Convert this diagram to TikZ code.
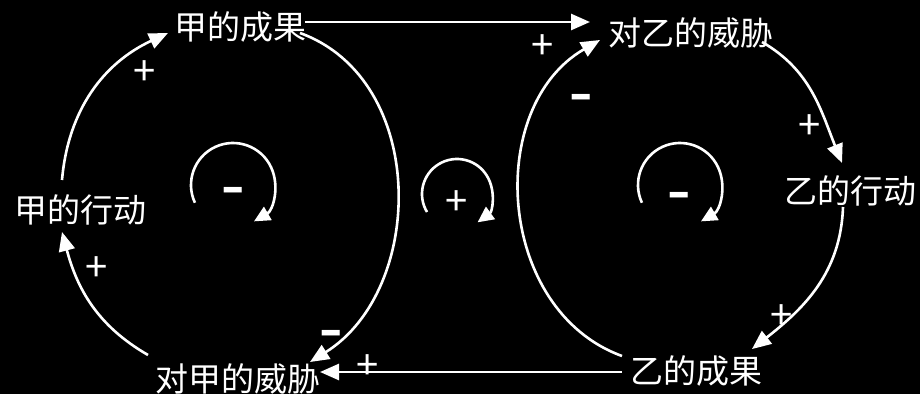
\documentclass[tikz,border=0pt]{standalone}
\usepackage{fontspec}
\newfontfamily\cjk{Noto Sans CJK SC}
\usetikzlibrary{arrows.meta}

\begin{document}
\begin{tikzpicture}[x=1pt, y=1pt,
    var/.style={inner sep=0pt, text=white, font=\cjk\fontsize{33}{33}\selectfont},
    plussign/.style={inner sep=0pt, text=white, font=\cjk\fontsize{40}{40}\selectfont},
    minussign/.style={inner sep=0pt, text=white, font=\rmfamily\bfseries\fontsize{60}{60}\selectfont},
    link/.style={draw=white, line width=2.6pt, -{Triangle[length=19pt, width=16pt]}},
    turn/.style={draw=white, line width=2.6pt, -{Triangle[length=16pt, width=15pt]}}]
    \fill[black] (0,0) rectangle (920,394);
    \useasboundingbox (0,0) rectangle (920,394);

    % variables
    \node[var] (jiaRes) at (240,367) {甲的成果};
    \node[var] (yiThreat) at (691,361) {对乙的威胁};
    \node[var] (yiAct) at (850,203) {乙的行动};
    \node[var] (yiRes) at (696,23) {乙的成果};
    \node[var] (jiaThreat) at (238,15) {对甲的威胁};
    \node[var] (jiaAct) at (80,184) {甲的行动};

    % left loop
    \draw[link] ([shift={(-18,30)}]jiaAct.center) to[out=85, in=205] ([shift={(-72,-6)}]jiaRes.center);
    \draw[link] ([shift={(60,-6)}]jiaRes.center) to[out=-20, in=32, looseness=1.06] ([shift={(72,17)}]jiaThreat.center);
    \draw[link] ([shift={(-90,24)}]jiaThreat.center) to[out=150, in=-75] ([shift={(-18,-22)}]jiaAct.center);

    % right loop
    \draw[link] ([shift={(-74,15)}]yiRes.center) to[out=160, in=210, looseness=1.08] ([shift={(-91,-7)}]yiThreat.center);
    \draw[link] ([shift={(71,-9)}]yiThreat.center) to[out=-30, in=112] ([shift={(-8,28)}]yiAct.center);
    \draw[link] ([shift={(-7,-16)}]yiAct.center) to[out=-92, in=38] ([shift={(56,22)}]yiRes.center);

    % cross links
    \draw[link] ([shift={(65,5)}]jiaRes.center) -- ([shift={(-101,11)}]yiThreat.center);
    \draw[link] ([shift={(-74,-1)}]yiRes.center) -- ([shift={(82,7)}]jiaThreat.center);

    % polarities
    \node[plussign] (pA) at (145,321) {+};
    \node[minussign] (nB) at (333,56) {-};
    \node[plussign] (pC) at (97,125) {+};
    \node[plussign] (pG) at (543,347) {+};
    \node[minussign] (nD) at (583,292) {-};
    \node[plussign] (pE) at (810,267) {+};
    \node[plussign] (pF) at (782,77) {+};
    \node[plussign] (pH) at (368,27) {+};

    % loop markers
    \coordinate (loopL) at (233,209);
    \coordinate (loopM) at (457,200);
    \coordinate (loopR) at (680,209);
    \draw[turn] ([shift={(205:42)}]loopL) arc[start angle=205, end angle=-60, radius=42];
    \draw[turn] ([shift={(211:35)}]loopM) arc[start angle=211, end angle=-54, radius=35];
    \draw[turn] ([shift={(205:42)}]loopR) arc[start angle=205, end angle=-60, radius=42];
    \node[minussign] (nL) at (235,199) {-};
    \node[plussign] (pM) at (457,191) {+};
    \node[minussign] (nR) at (681,194) {-};
\end{tikzpicture}
\end{document}
